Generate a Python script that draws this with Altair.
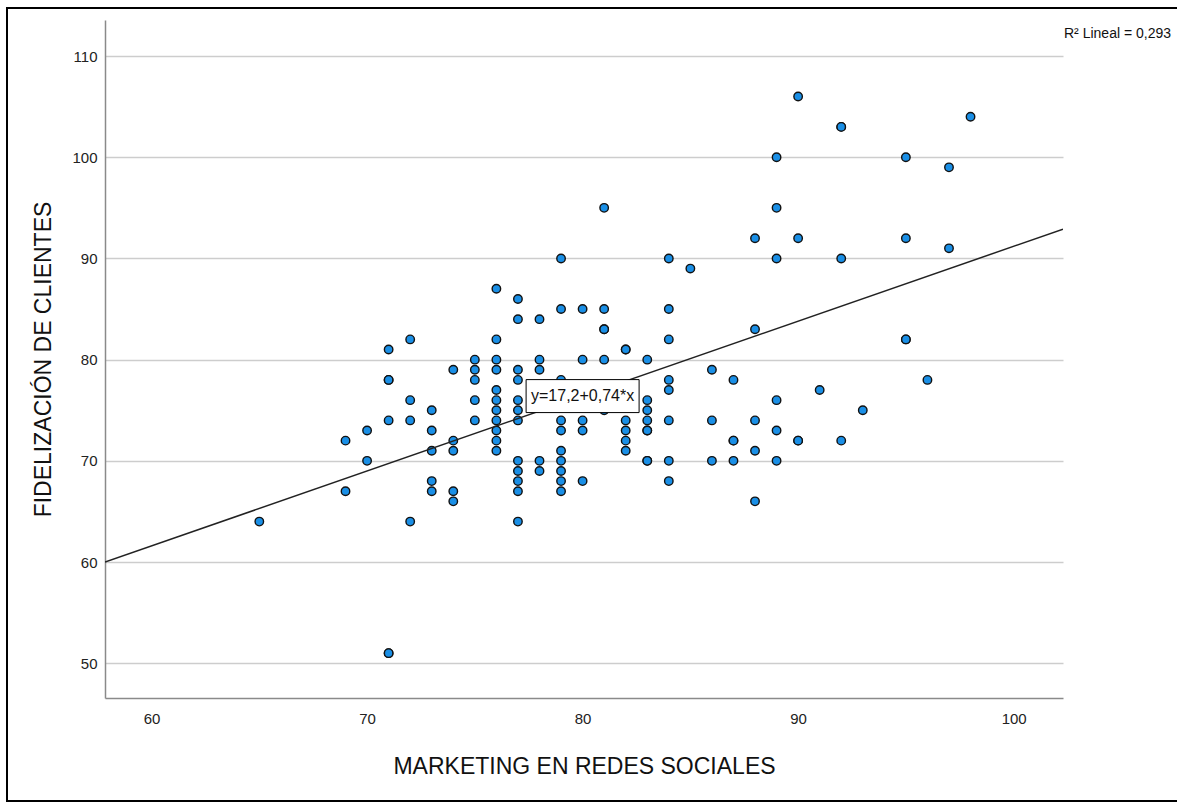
import altair as alt
import pandas as pd

# ---- data ----
x_levels = [65, 69, 70, 71, 72, 73, 74, 75, 76, 77, 78, 79, 80, 81, 82, 83, 84,
            85, 86, 87, 88, 89, 90, 91, 92, 93, 95, 96, 97, 98]
y_groups = [
    [64],
    [72, 67],
    [73, 70],
    [81, 78, 78, 74, 51, 51],
    [82, 76, 74, 64],
    [75, 73, 71, 68, 67],
    [79, 72, 71, 67, 66],
    [80, 79, 78, 76, 74],
    [87, 82, 80, 79, 77, 76, 75, 74, 73, 72, 71],
    [86, 84, 79, 78, 76, 75, 74, 70, 69, 68, 67, 64],
    [84, 80, 79, 70, 69],
    [90, 85, 78, 77, 74, 73, 71, 70, 69, 68, 67],
    [85, 80, 74, 73, 68],
    [95, 85, 83, 83, 80, 75],
    [81, 81, 74, 73, 72, 71],
    [80, 76, 75, 74, 73, 73, 70, 70],
    [90, 85, 82, 78, 77, 74, 70, 68],
    [89],
    [79, 74, 70],
    [78, 72, 72, 70],
    [92, 83, 74, 71, 66],
    [100, 95, 90, 76, 73, 70],
    [106, 92, 72, 72],
    [77],
    [103, 103, 90, 72],
    [75],
    [100, 92, 82, 82],
    [78],
    [99, 91],
    [104],
]
intercept = 17.2
slope = 0.74
r2_text = "R\u00b2 Lineal = 0,293"
label_x = [80]

x_ticks = [60, 70, 80, 90, 100]
y_ticks = [50, 60, 70, 80, 90, 100, 110]
x_domain = [57.84, 102.29]
y_domain = [46.57, 113.56]

W, H = 958, 678
FONT = "Liberation Sans, Arial"

pts = pd.DataFrame([(x, y) for x, ys in zip(x_levels, y_groups) for y in ys],
                   columns=["x", "y"])

xscale = alt.Scale(domain=x_domain, nice=False, zero=False)
yscale = alt.Scale(domain=y_domain, nice=False, zero=False)

x_axis = alt.Axis(values=x_ticks, grid=False, ticks=False, tickSize=0,
                  title="MARKETING EN REDES SOCIALES",
                  labelPadding=25, labelBaseline="alphabetic", labelFontSize=15,
                  titleFontSize=23, titleFontWeight="normal", titleY=75, titleX=W / 2,
                  titleBaseline="alphabetic", titleAlign="center")
y_axis = alt.Axis(values=y_ticks, grid=True, ticks=False, tickSize=0,
                  title="FIDELIZACIÓN DE CLIENTES",
                  labelPadding=8, labelFontSize=15,
                  titleFontSize=23, titleFontWeight="normal", titleAngle=270,
                  titleX=-55, titleY=H / 2, titleBaseline="alphabetic",
                  titleAlign="center")

X = alt.X("x:Q", scale=xscale, axis=x_axis)
Y = alt.Y("y:Q", scale=yscale, axis=y_axis)

frame = alt.Chart(pd.DataFrame({"a": [0]})).mark_rect(
    fill="transparent", stroke="black", strokeWidth=2
).encode(x=alt.value(-98), x2=alt.value(1085), y=alt.value(-12), y2=alt.value(781))

points = alt.Chart(pts).mark_circle(
    color="#1a8fe6", stroke="#111111", strokeWidth=1.4, size=72, opacity=1
).encode(x=X, y=Y)

line = alt.Chart(pd.DataFrame({"x": x_domain})).transform_calculate(
    y=f"{intercept} + {slope} * datum.x"
).mark_line(color="#222222", strokeWidth=1.5, clip=True).encode(x=X, y=Y)

eq_text = ("y=" + str(intercept) + "+" + str(slope) + "*x").replace(".", ",")
box = alt.Chart(pd.DataFrame({"x": label_x})).transform_calculate(
    y=f"{intercept} + {slope} * datum.x"
).mark_point(
    shape="M-1,-0.292L1,-0.292L1,0.292L-1,0.292Z", size=12769,
    filled=True, fill="white", stroke="black", strokeWidth=1, opacity=1
).encode(x=X, y=Y)
box_text = alt.Chart(pd.DataFrame({"x": label_x})).transform_calculate(
    y=f"{intercept} + {slope} * datum.x"
).mark_text(
    text=eq_text, font=FONT, fontSize=16, color="#111111",
    align="center", baseline="middle"
).encode(x=X, y=Y)

r2 = alt.Chart(pd.DataFrame({"a": [0]})).mark_text(
    text=r2_text, font=FONT, fontSize=14, color="#111111",
    align="left", baseline="alphabetic"
).encode(x=alt.value(W + 1), y=alt.value(18))

chart = alt.layer(frame, points, line, box, box_text, r2).properties(
    width=W, height=H,
    autosize=alt.AutoSizeParams(type="none"),
    padding={"left": 105, "top": 20, "right": 114, "bottom": 107},
    background="white",
).configure_view(stroke=None).configure_axis(
    labelFont=FONT, titleFont=FONT, labelColor="#222222", titleColor="#111111",
    domainColor="#8a8a8a", domainWidth=1.5, gridColor="#cdcdcd", gridWidth=1.5,
)

chart.save("out.html", embed_options={"renderer": "svg", "actions": False})
